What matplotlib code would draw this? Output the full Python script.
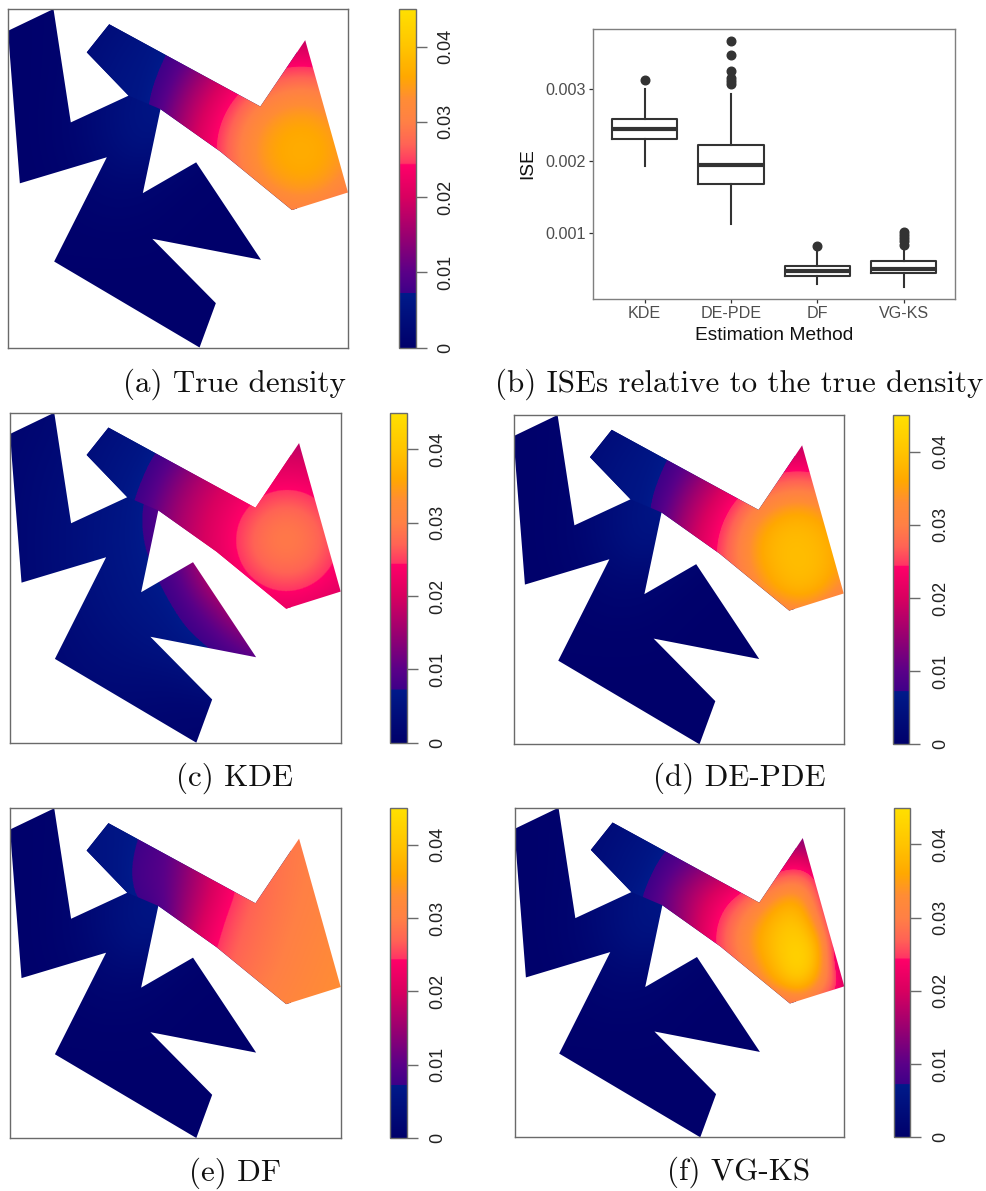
"""Density estimates on a non-convex domain, with ISE boxplots."""
import matplotlib
matplotlib.use("Agg")
import matplotlib.pyplot as plt
import numpy as np
from matplotlib.colors import LinearSegmentedColormap, Normalize
from matplotlib.patches import Polygon

W, H = 987, 1191

# domain outline, unit square
DOMAIN = [(.133, 1.0), (0, .936), (.003, .884), (.034, .485), (.290, .562), (.135, .254),
          (.563, 0), (.611, .131), (.424, .321), (.744, .259), (.553, .547), (.396, .456),
          (.448, .704), (.624, .579), (.835, .406), (1.0, .458), (.874, .908), (.742, .712),
          (.297, .955), (.231, .872), (.354, .744), (.184, .665)]
# arm + channel + kite: separated because values jump across the gaps to the lower part
UPPER = [(.354, .744), (.448, .704), (.624, .579), (.835, .406), (1.0, .458), (.874, .908),
         (.742, .712), (.297, .955), (.231, .872)]

# density x 1e4
UPPER_U = [.2, 1.0]    # 13 columns
UPPER_V = [1.0, .4]    # 10 rows
LOWER_U = [0, .8]      # 9 columns
LOWER_V = [1.0, 0]     # 11 rows

TRUE_UP = [
    [21, 29, 36, 47, 54, 61, 68, 74, 90, 104, 108, 102, 88],
    [25, 34, 42, 53, 62, 73, 90, 122, 147, 161, 165, 160, 142],
    [29, 39, 50, 57, 70, 96, 137, 170, 195, 210, 215, 208, 190],
    [33, 43, 55, 60, 80, 130, 175, 211, 240, 261, 267, 258, 234],
    [35, 48, 58, 60, 100, 160, 203, 246, 286, 316, 325, 312, 279],
    [37, 50, 60, 60, 118, 177, 225, 275, 325, 352, 358, 348, 315],
    [38, 51, 62, 60, 125, 189, 235, 290, 340, 364, 369, 361, 333],
    [38, 51, 62, 60, 125, 190, 232, 286, 337, 361, 367, 358, 329],
    [36, 49, 60, 60, 115, 171, 218, 265, 311, 340, 349, 337, 302],
    [34, 47, 57, 60, 98, 148, 193, 232, 268, 293, 302, 287, 261],
]
KDE_UP = [
    [25, 31, 40, 49, 57, 65, 77, 100, 115, 124, 124, 117, 101],
    [27, 38, 47, 56, 64, 87, 119, 143, 158, 168, 168, 160, 144],
    [33, 43, 53, 61, 82, 118, 152, 176, 190, 197, 197, 191, 177],
    [37, 47, 57, 68, 105, 146, 178, 200, 216, 226, 227, 218, 200],
    [38, 49, 60, 78, 124, 165, 194, 219, 243, 262, 263, 245, 222],
    [40, 52, 61, 86, 135, 173, 203, 233, 266, 290, 290, 270, 234],
    [40, 52, 62, 92, 140, 176, 206, 236, 274, 295, 295, 276, 241],
    [40, 50, 60, 85, 130, 171, 200, 226, 260, 280, 281, 262, 229],
    [38, 48, 58, 74, 117, 157, 188, 212, 231, 248, 248, 233, 214],
    [35, 45, 55, 65, 95, 136, 170, 190, 206, 214, 214, 207, 192],
]
DEPDE_UP = [
    [21, 29, 36, 47, 54, 61, 68, 74, 90, 104, 108, 102, 88],
    [25, 34, 42, 53, 62, 73, 90, 122, 147, 161, 165, 160, 142],
    [29, 39, 50, 57, 70, 96, 137, 170, 195, 210, 215, 208, 190],
    [33, 43, 55, 60, 80, 128, 172, 208, 238, 262, 270, 258, 232],
    [35, 48, 58, 60, 100, 158, 200, 244, 290, 330, 342, 325, 282],
    [37, 50, 60, 60, 116, 175, 222, 272, 338, 376, 384, 368, 325],
    [38, 51, 62, 60, 124, 186, 232, 288, 355, 388, 392, 382, 345],
    [38, 51, 62, 60, 124, 188, 230, 284, 345, 384, 394, 384, 340],
    [36, 49, 60, 60, 114, 170, 216, 262, 318, 362, 382, 360, 312],
    [34, 47, 57, 60, 96, 146, 190, 230, 268, 298, 312, 295, 262],
]
DF_UP = [
    [45, 52, 60, 70, 90, 130, 170, 215, 255, 278, 290, 295, 300],
    [45, 52, 60, 72, 90, 130, 175, 222, 262, 282, 292, 300, 305],
    [45, 52, 60, 80, 92, 135, 180, 228, 265, 284, 295, 302, 310],
    [45, 52, 60, 85, 95, 140, 188, 232, 268, 285, 296, 304, 312],
    [36, 48, 60, 78, 95, 150, 195, 240, 270, 287, 298, 306, 315],
    [38, 50, 60, 60, 90, 160, 212, 255, 275, 290, 300, 310, 320],
    [38, 52, 60, 60, 110, 172, 228, 262, 280, 293, 304, 314, 325],
    [38, 50, 60, 62, 125, 180, 240, 270, 284, 296, 308, 318, 328],
    [36, 48, 58, 65, 125, 190, 250, 276, 290, 302, 312, 322, 332],
    [34, 46, 56, 68, 120, 190, 255, 282, 296, 308, 318, 326, 335],
]
VGKS_UP = [
    [20, 28, 36, 46, 55, 62, 62, 60, 60, 70, 90, 80, 40],
    [24, 32, 40, 50, 60, 72, 75, 80, 80, 90, 120, 90, 40],
    [28, 36, 48, 58, 72, 95, 110, 120, 130, 170, 190, 130, 50],
    [30, 40, 52, 62, 95, 130, 165, 180, 210, 250, 262, 215, 80],
    [34, 46, 58, 74, 118, 165, 205, 240, 280, 340, 355, 230, 100],
    [36, 48, 60, 76, 115, 175, 228, 280, 335, 390, 395, 280, 100],
    [38, 50, 60, 74, 110, 175, 240, 298, 360, 405, 425, 350, 120],
    [36, 48, 58, 72, 105, 165, 230, 280, 345, 400, 450, 360, 130],
    [34, 46, 56, 70, 100, 150, 210, 260, 310, 370, 410, 320, 210],
    [32, 44, 54, 66, 90, 130, 180, 220, 240, 260, 280, 250, 170],
]
COMMON_LOW = [
    [3, 5, 10, 14, 25, 35, 45, 50, 50],
    [3, 5, 10, 20, 40, 55, 60, 60, 60],
    [3, 5, 12, 30, 50, 60, 65, 65, 65],
    [3, 5, 15, 38, 58, 66, 66, 66, 66],
    [3, 5, 15, 35, 55, 30, 6, 3, 3],
    [3, 4, 10, 22, 20, 8, 3, 3, 3],
    [3, 3, 6, 10, 8, 3, 2, 2, 2],
    [3, 3, 3, 3, 3, 2, 2, 2, 2],
    [2, 2, 2, 2, 2, 2, 2, 2, 2],
    [2, 2, 2, 2, 2, 2, 2, 2, 2],
    [2, 2, 2, 2, 2, 2, 2, 2, 2],
]
KDE_LOW = [
    [11, 17, 27, 36, 47, 57, 66, 74, 95],
    [13, 21, 31, 43, 56, 68, 105, 140, 158],
    [15, 25, 36, 49, 62, 95, 150, 190, 215],
    [16, 27, 39, 53, 67, 122, 185, 240, 270],
    [16, 28, 40, 55, 68, 100, 190, 250, 290],
    [16, 27, 39, 52, 64, 80, 178, 225, 260],
    [15, 24, 34, 48, 58, 65, 110, 182, 205],
    [13, 20, 30, 38, 48, 58, 70, 110, 140],
    [10, 16, 25, 30, 30, 32, 45, 68, 72],
    [8, 13, 17, 20, 18, 14, 12, 14, 20],
    [6, 10, 14, 14, 12, 10, 8, 8, 10],
]

# colour scale: stops in density x 1e4
CMAP_STOPS = [0, 72, 73, 100, 150, 200, 243, 245, 270, 300, 330, 360, 400, 450]
CMAP_COLORS = ["#00006a", "#001a8a", "#3f0088", "#5a0088", "#9a0070", "#d80060", "#ff0068",
               "#ff3564", "#ff6355", "#ff8045", "#ff8c35", "#ffa800", "#ffc400", "#ffe000"]
CBAR_TICKS = [0, .01, .02, .03, .04]
CBAR_LABELS = ["0", "0.01", "0.02", "0.03", "0.04"]

# boxplot
METHODS = ["KDE", "DE-PDE", "DF", "VG-KS"]
Q1 = [.00231, .00168, .00041, .00045]
MEDIAN = [.00245, .00195, .00048, .00051]
Q3 = [.002588, .00223, .00055, .00061]
WHISK_LO = [.00194, .00113, .00029, .00025]
WHISK_HI = [.0030, .00294, .00075, .00077]
OUTLIERS = [[.003125],
            [.00367, .00348, .00325, .00315, .00311, .00307],
            [.00083],
            [.00102, .00098, .00093, .00089, .00084]]

cmap = LinearSegmentedColormap.from_list(
    "density", [(s / 450, c) for s, c in zip(CMAP_STOPS, CMAP_COLORS)], N=2048)
norm = Normalize(0, .045)

plt.rcParams["font.family"] = ["Liberation Sans", "DejaVu Sans"]
fig = plt.figure(figsize=(W / 100, H / 100), dpi=100)


def px_axes(left, top, right, bottom):
    return fig.add_axes([left / W, 1 - bottom / H, (right - left) / W, (bottom - top) / H])


def field(ax, table, us, vs, clip):
    table = np.array(table) * 1e-4
    du = (us[1] - us[0]) / (table.shape[1] - 1)
    dv = (vs[0] - vs[1]) / (table.shape[0] - 1)
    im = ax.imshow(table, cmap=cmap, norm=norm, origin="upper", aspect="auto",
                   interpolation="bicubic", interpolation_stage="data",
                   extent=(us[0] - du / 2, us[1] + du / 2, vs[1] - dv / 2, vs[0] + dv / 2))
    im.set_clip_path(Polygon(clip, closed=True, transform=ax.transData))
    return im


def density_panel(box, cbar, upper, lower, ticklabel_x):
    ax = px_axes(*box)
    im = field(ax, lower, LOWER_U, LOWER_V, DOMAIN)
    field(ax, upper, UPPER_U, UPPER_V, UPPER)
    ax.set_xlim(0, 1)
    ax.set_ylim(0, 1)
    ax.set_xticks([])
    ax.set_yticks([])
    for s in ax.spines.values():
        s.set_color("#6a6a6a")
        s.set_linewidth(1.0)

    cax = px_axes(*cbar)
    cb = fig.colorbar(im, cax=cax)
    cb.set_ticks(CBAR_TICKS)
    cb.set_ticklabels([])
    cax.tick_params(axis="y", length=8, width=1.0, color="#6a6a6a")
    cb.outline.set_edgecolor("#6a6a6a")
    cb.outline.set_linewidth(1.0)
    for val, lab in zip(CBAR_TICKS, CBAR_LABELS):
        y = cbar[3] - (cbar[3] - cbar[1]) * val / .045
        fig.text(ticklabel_x / W, 1 - y / H, lab, rotation=90, ha="center", va="center",
                 fontsize=13, color="#222222")


density_panel((8.3, 9, 348, 347.5), (399, 9, 415.7, 347.7), TRUE_UP, COMMON_LOW, 446)
density_panel((10.3, 412.7, 340.7, 742.7), (390.3, 412.7, 407, 742.7), KDE_UP, KDE_LOW, 438)
density_panel((513.7, 415, 843.7, 744.3), (893.3, 415, 909.3, 744.3), DEPDE_UP, COMMON_LOW, 941)
density_panel((10.3, 808.3, 340.7, 1138), (390.3, 808.3, 407, 1138), DF_UP, COMMON_LOW, 438)
density_panel((514.7, 807.7, 844.3, 1137.3), (893.7, 807.7, 910.3, 1137.3), VGKS_UP, COMMON_LOW, 941)

# ISE boxplot
ax = px_axes(593.3, 29.3, 955, 299)
stats = [{"med": m, "q1": a, "q3": b, "whislo": lo, "whishi": hi, "fliers": o}
         for m, a, b, lo, hi, o in zip(MEDIAN, Q1, Q3, WHISK_LO, WHISK_HI, OUTLIERS)]
ax.bxp(stats, positions=[1, 2, 3, 4], widths=.76, showcaps=False,
       boxprops=dict(color="#333333", linewidth=1.5),
       whiskerprops=dict(color="#333333", linewidth=1.5),
       medianprops=dict(color="#333333", linewidth=3, solid_capstyle="butt"),
       flierprops=dict(marker="o", markerfacecolor="#333333", markeredgecolor="#333333",
                       markersize=6.2))
ax.set_xlim(.405, 4.595)
ax.set_ylim(.000088, .003833)
ax.set_xticks([1, 2, 3, 4], METHODS)
ax.set_yticks([.001, .002, .003], ["0.001", "0.002", "0.003"])
ax.tick_params(length=3, width=.9, color="#333333", labelcolor="#4d4d4d", labelsize=11.6, pad=2)
for s in ax.spines.values():
    s.set_color("#7f7f7f")
    s.set_linewidth(1.0)
fig.text(774 / W, 1 - 335.5 / H, "Estimation Method", ha="center", va="center", fontsize=13.8, color="#111111")
fig.text(528 / W, 1 - 164 / H, "ISE", rotation=90, ha="center", va="center", fontsize=13.8, color="#111111")

# captions
CAPTIONS = ["(a) True density", "(b) ISEs relative to the true density", "(c) KDE",
            "(d) DE-PDE", "(e) DF", "(f) VG-KS"]
CAPTION_X = [234, 739, 235, 739, 235, 738.5]
CAPTION_Y = [384, 384, 778, 778, 1173, 1172]
for txt, x, y in zip(CAPTIONS, CAPTION_X, CAPTION_Y):
    fig.text(x / W, 1 - y / H, txt, ha="center", va="center", fontsize=22.3,
             family=["cmr10", "DejaVu Serif"], color="#111111")

fig.savefig("out.png", dpi=100)
